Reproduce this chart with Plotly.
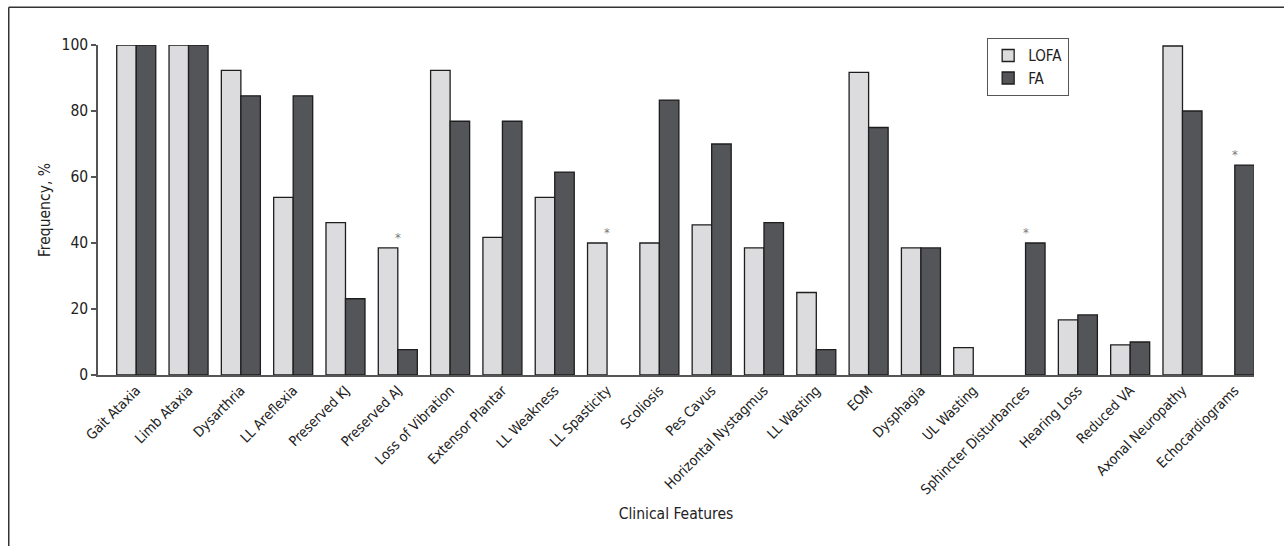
import plotly.graph_objects as go

categories = ["Gait Ataxia", "Limb Ataxia", "Dysarthria", "LL Areflexia", "Preserved KJ",
              "Preserved AJ", "Loss of Vibration", "Extensor Plantar", "LL Weakness",
              "LL Spasticity", "Scoliosis", "Pes Cavus", "Horizontal Nystagmus", "LL Wasting",
              "EOM", "Dysphagia", "UL Wasting", "Sphincter Disturbances", "Hearing Loss",
              "Reduced VA", "Axonal Neuropathy", "Echocardiograms"]
lofa = [100, 100, 92.3, 53.8, 46.2, 38.5, 92.3, 41.7, 53.8, 40, 40, 45.5, 38.5, 25,
        91.7, 38.5, 8.3, 0, 16.7, 9.1, 99.7, 0]
fa = [100, 100, 84.6, 84.6, 23.1, 7.7, 76.9, 76.9, 61.5, 0, 83.3, 70, 46.2, 7.7,
      75, 38.5, 0, 40, 18.2, 10, 80, 63.6]
significant = ["Preserved AJ", "LL Spasticity", "Sphincter Disturbances", "Echocardiograms"]
y_ticks = [0, 20, 40, 60, 80, 100]

FONT = "DejaVu Sans Condensed, Roboto, sans-serif"

fig = go.Figure()
fig.add_trace(go.Bar(name="LOFA", x=categories, y=lofa,
                     marker=dict(color="#dcdcde",
                                 line=dict(color="#1e1e1e", width=[0 if v == 0 else 1.3 for v in lofa]))))
fig.add_trace(go.Bar(name="FA", x=categories, y=fa,
                     marker=dict(color="#545559",
                                 line=dict(color="#1e1e1e", width=[0 if v == 0 else 1.3 for v in fa]))))

for c in significant:
    i = categories.index(c)
    fig.add_annotation(x=c, y=max(lofa[i], fa[i]), text="*", showarrow=False,
                       yanchor="bottom", yshift=1, font=dict(size=13, color="#7a7a7a", family=FONT))

# outer frame (left and top edges visible)
fig.add_shape(type="line", xref="paper", yref="paper", x0=-0.0772, x1=1.1, y0=1.1145, y1=1.1145,
              line=dict(color="#333333", width=1.5))
fig.add_shape(type="line", xref="paper", yref="paper", x0=-0.0772, x1=-0.0772, y0=-0.6, y1=1.1145,
              line=dict(color="#333333", width=1.5))

fig.update_layout(
    width=1284, height=546,
    margin=dict(l=98, r=30, t=45, b=171),
    paper_bgcolor="white", plot_bgcolor="white",
    barmode="group", bargap=0.254, bargroupgap=0,
    font=dict(family=FONT, color="#222222", size=14),
    showlegend=True,
    legend=dict(x=0.769, y=1.021, xanchor="left", yanchor="top",
                bordercolor="#555555", borderwidth=1.2, bgcolor="white",
                font=dict(size=15, family=FONT), itemwidth=30),
    xaxis=dict(range=[-0.731, 21.367], showline=True, linecolor="#555555", linewidth=1.5,
               ticks="", tickangle=-45, tickfont=dict(size=14, family=FONT),
               title=dict(text="Clinical Features", font=dict(size=15.5, family=FONT), standoff=12),
               showgrid=False, zeroline=False),
    yaxis=dict(range=[0, 100], tickvals=y_ticks, showline=True, linecolor="#555555", linewidth=1.5,
               ticks="outside", ticklen=5, tickcolor="#555555", tickwidth=1.5,
               tickfont=dict(size=15.5, family=FONT),
               title=dict(text="Frequency, %", font=dict(size=15.5, family=FONT), standoff=7),
               showgrid=False, zeroline=False),
)

fig.write_html("out.html", config={"displayModeBar": False},
               post_script="document.body.style.margin='0';")
